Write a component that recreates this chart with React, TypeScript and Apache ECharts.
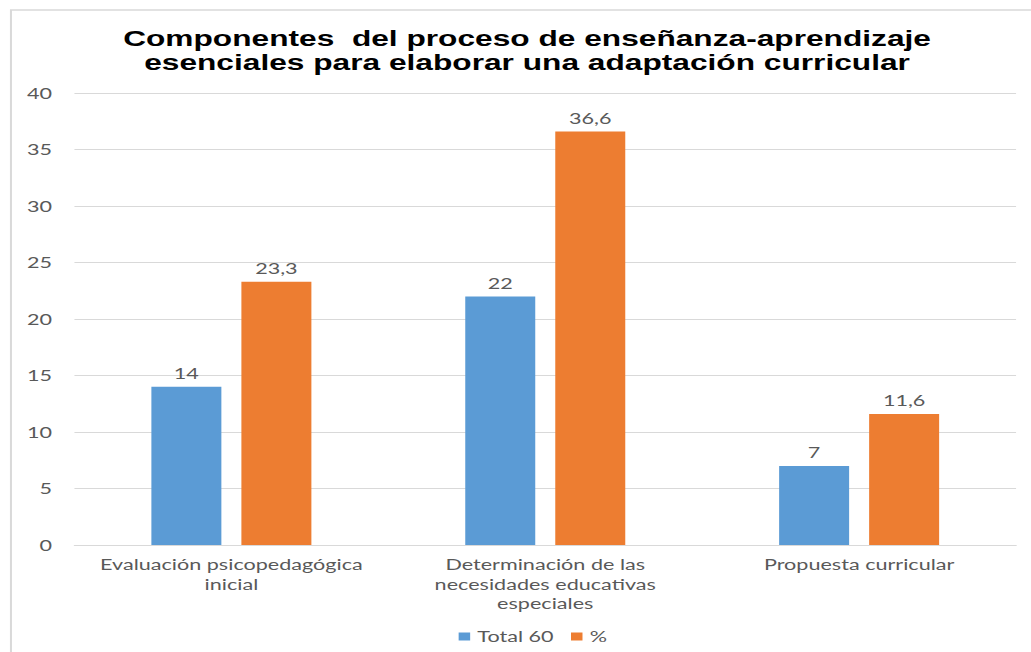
import React, { useEffect, useRef } from "react";
import * as echarts from "echarts";

const categories = [
  "Evaluación psicopedagógica\ninicial",
  "Determinación de las\nnecesidades educativas\nespeciales",
  "Propuesta curricular",
];
const totalValues = [14, 22, 7];
const percentValues = [23.3, 36.6, 11.6];
const seriesNames = ["Total 60", "%"];
const titleLines = [
  "Componentes  del proceso de enseñanza-aprendizaje",
  "esenciales para elaborar una adaptación curricular",
];

const STRETCH = 1.44;
const W = Math.round(1031 / STRETCH);
const H = 652;

const fmt = (v: number) => String(v).replace(".", ",");
const textFont = "Lato";
const gray = "#595959";

export default function App() {
  const ref = useRef<HTMLDivElement>(null);
  useEffect(() => {
    if (!ref.current) return;
    const chart = echarts.init(ref.current, undefined, { renderer: "svg" });
    const labelStyle = {
      show: true,
      position: "top",
      distance: 6,
      fontFamily: textFont,
      fontSize: 15,
      color: gray,
      formatter: (p: any) => fmt(p.value),
    };
    chart.setOption({
      animation: false,
      backgroundColor: "#ffffff",
      title: {
        text: titleLines.join("\n"),
        left: 361,
        textAlign: "center",
        top: 21,
        textStyle: {
          fontFamily: "Liberation Sans",
          fontWeight: "bold",
          fontSize: 22,
          lineHeight: 24,
          color: "#000000",
        },
      },
      graphic: [
        {
          type: "rect",
          shape: { x: 7.6, y: 10, width: 760, height: 700 },
          style: { fill: "none", stroke: "#d9d9d9", lineWidth: 1.4 },
          silent: true,
        },
      ],
      grid: { left: 51.7, right: 10.4, top: 93, bottom: 107, containLabel: false },
      legend: {
        data: seriesNames,
        left: 313.5,
        top: 624,
        itemWidth: 8,
        itemHeight: 8,
        itemGap: 12,
        icon: "rect",
        textStyle: { fontFamily: textFont, fontSize: 15, color: gray },
      },
      xAxis: {
        type: "category",
        data: categories,
        axisTick: { show: false },
        axisLine: { lineStyle: { color: "#d9d9d9" } },
        axisLabel: {
          fontFamily: textFont,
          fontSize: 15,
          color: gray,
          margin: 10,
          lineHeight: 19.5,
          interval: 0,
        },
      },
      yAxis: {
        type: "value",
        min: 0,
        max: 40,
        interval: 5,
        axisLine: { show: false },
        axisTick: { show: false },
        splitLine: { lineStyle: { color: "#d9d9d9", width: 1 } },
        axisLabel: { fontFamily: textFont, fontSize: 15, color: gray, margin: 15.6 },
      },
      series: [
        {
          name: seriesNames[0],
          type: "bar",
          data: totalValues,
          barWidth: "22.3%",
          barGap: "28.6%",
          itemStyle: { color: "#5B9BD5" },
          label: labelStyle,
        },
        {
          name: seriesNames[1],
          type: "bar",
          data: percentValues,
          barWidth: "22.3%",
          barGap: "28.6%",
          itemStyle: { color: "#ED7D31" },
          label: labelStyle,
        },
      ],
    });
    return () => chart.dispose();
  }, []);
  return (
    <div
      ref={ref}
      style={{
        position: "fixed",
        left: 0,
        top: 0,
        width: W + "px",
        height: H + "px",
        transform: `scaleX(${STRETCH})`,
        transformOrigin: "0 0",
      }}
    />
  );
}
